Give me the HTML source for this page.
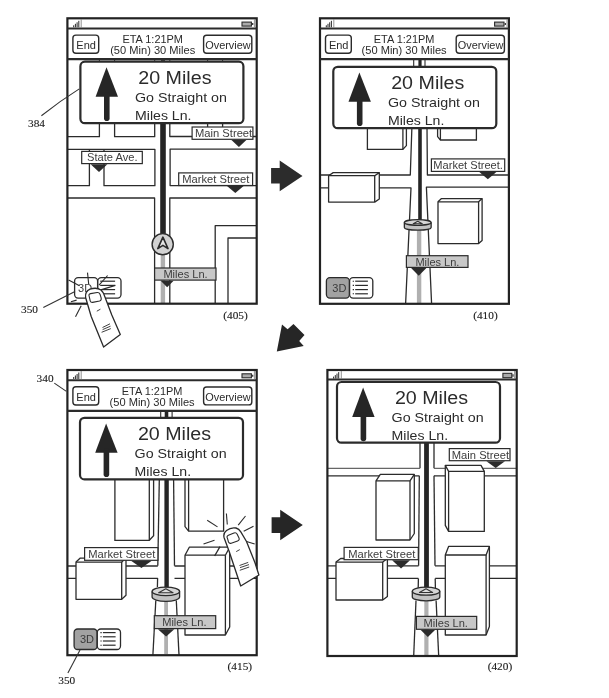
<!DOCTYPE html>
<html><head><meta charset="utf-8"><style>
html,body{margin:0;padding:0;background:#fff;}
svg{display:block;will-change:transform;}
</style></head><body>
<svg width="609" height="698" viewBox="0 0 609 698">
<rect x="0" y="0" width="609" height="698" fill="#fff"/>
<polyline points="67.4,136.7 99.4,136.7 99.4,122" fill="none" stroke="#2b2b2b" stroke-width="1.3" stroke-linejoin="round"/>
<polyline points="114.6,122 114.6,136.7 154.7,136.7 154.7,122" fill="none" stroke="#2b2b2b" stroke-width="1.3" stroke-linejoin="round"/>
<polyline points="67.4,149.3 154.9,149.3 154.9,185.7 104,185.7 104,149.3" fill="none" stroke="#2b2b2b" stroke-width="1.3" stroke-linejoin="round"/>
<polyline points="67.4,185.7 89.4,185.7 89.4,149.3" fill="none" stroke="#2b2b2b" stroke-width="1.3" stroke-linejoin="round"/>
<polyline points="67.4,198.0 154.6,198.0 154.6,303.7" fill="none" stroke="#2b2b2b" stroke-width="1.3" stroke-linejoin="round"/>
<polyline points="169.8,122 169.8,136.5 256.7,136.5" fill="none" stroke="#2b2b2b" stroke-width="1.3" stroke-linejoin="round"/>
<line x1="207.6" y1="122" x2="207.6" y2="137" stroke="#2b2b2b" stroke-width="1.3"/>
<line x1="222.6" y1="122" x2="222.6" y2="137" stroke="#2b2b2b" stroke-width="1.3"/>
<polyline points="256.7,149.1 170.1,149.1 170.1,185.6 256.7,185.6" fill="none" stroke="#2b2b2b" stroke-width="1.3" stroke-linejoin="round"/>
<polyline points="256.7,198.0 169.8,198.0 169.8,303.7" fill="none" stroke="#2b2b2b" stroke-width="1.3" stroke-linejoin="round"/>
<polyline points="256.7,225.7 215.2,225.7 215.2,303.7" fill="none" stroke="#2b2b2b" stroke-width="1.3" stroke-linejoin="round"/>
<polyline points="256.7,238.0 228.0,238.0 228.0,303.7" fill="none" stroke="#2b2b2b" stroke-width="1.3" stroke-linejoin="round"/>
<line x1="163.0" y1="122" x2="163.0" y2="236" stroke="#252525" stroke-width="5.6"/>
<line x1="162.9" y1="254" x2="162.9" y2="303" stroke="#b0b0b0" stroke-width="4.4"/>
<circle cx="162.7" cy="244.2" r="10.6" fill="#d2d2d2" stroke="#2b2b2b" stroke-width="1.4"/>
<polygon points="162.9,237.2 168,248.6 162.9,245.4 157.8,248.6" fill="#e6e6e6" stroke="#2b2b2b" stroke-width="1.6" stroke-linejoin="round"/>
<rect x="81.7" y="151.4" width="60.60" height="12.20" rx="0" fill="#fff" stroke="#2b2b2b" stroke-width="1.2"/>
<text x="87.0" y="161.4" font-family="Liberation Sans" font-size="11" fill="#3c3c3c" textLength="50.6" lengthAdjust="spacingAndGlyphs">State Ave.</text>
<polygon points="90.6,164.2 107.4,164.2 99.0,171.9" fill="#2b2b2b"/>
<rect x="192.1" y="127.0" width="60.80" height="12.30" rx="0" fill="#fff" stroke="#2b2b2b" stroke-width="1.2"/>
<text x="195.0" y="136.9" font-family="Liberation Sans" font-size="11" fill="#3c3c3c" textLength="57.2" lengthAdjust="spacingAndGlyphs">Main Street</text>
<polygon points="231.4,139.9 246.4,139.9 238.9,147.0" fill="#2b2b2b"/>
<rect x="178.7" y="172.9" width="73.90" height="12.60" rx="0" fill="#fff" stroke="#2b2b2b" stroke-width="1.2"/>
<text x="182.3" y="183.0" font-family="Liberation Sans" font-size="11" fill="#3c3c3c" textLength="67.0" lengthAdjust="spacingAndGlyphs">Market Street</text>
<polygon points="227.0,186.1 243.6,186.1 235.3,192.9" fill="#2b2b2b"/>
<rect x="154.6" y="268.0" width="61.40" height="12.10" rx="0" fill="#c8c8c8" stroke="#2b2b2b" stroke-width="1.2"/>
<text x="163.4" y="277.9" font-family="Liberation Sans" font-size="11" fill="#3c3c3c" textLength="44.3" lengthAdjust="spacingAndGlyphs">Miles Ln.</text>
<polygon points="160.7,280.70000000000005 173.6,280.70000000000005 167.14999999999998,287.3" fill="#2b2b2b"/>
<rect x="74.6" y="277.6" width="23.00" height="20.50" rx="3.5" fill="#fff" stroke="#2b2b2b" stroke-width="1.3"/>
<text x="78.1" y="292.40000000000003" font-family="Liberation Sans" font-size="11" fill="#3a3a3a">3D</text>
<rect x="97.8" y="277.6" width="23.20" height="20.50" rx="3.5" fill="#fff" stroke="#2b2b2b" stroke-width="1.3"/>
<line x1="100.19999999999999" y1="281.20000000000005" x2="115.1" y2="281.20000000000005" stroke="#2b2b2b" stroke-width="1.2"/>
<line x1="100.19999999999999" y1="285.40000000000003" x2="115.1" y2="285.40000000000003" stroke="#2b2b2b" stroke-width="1.2"/>
<line x1="100.19999999999999" y1="289.6" x2="115.1" y2="289.6" stroke="#2b2b2b" stroke-width="1.2"/>
<line x1="100.19999999999999" y1="293.80000000000007" x2="115.1" y2="293.80000000000007" stroke="#2b2b2b" stroke-width="1.2"/>
<line x1="101.6" y1="289.6" x2="115.39999999999999" y2="285.40000000000003" stroke="#2b2b2b" stroke-width="1.1"/>
<rect x="67.4" y="18.3" width="189.30" height="285.40" fill="none" stroke="#222" stroke-width="2.2"/>
<line x1="67.4" y1="28.6" x2="256.70000000000005" y2="28.6" stroke="#2b2b2b" stroke-width="2"/>
<line x1="73.7" y1="27.3" x2="73.7" y2="25.3" stroke="#2b2b2b" stroke-width="1.0"/>
<line x1="75.4" y1="27.3" x2="75.4" y2="23.8" stroke="#2b2b2b" stroke-width="1.0"/>
<line x1="77.10000000000001" y1="27.3" x2="77.10000000000001" y2="22.3" stroke="#2b2b2b" stroke-width="1.0"/>
<line x1="78.8" y1="27.3" x2="78.8" y2="20.8" stroke="#2b2b2b" stroke-width="1.0"/>
<line x1="81.2" y1="19.3" x2="81.2" y2="27.6" stroke="#777" stroke-width="0.8"/>
<rect x="242.0" y="22.1" width="9.40" height="4.00" rx="0" fill="#aaa" stroke="#2b2b2b" stroke-width="1.1"/>
<line x1="252.70000000000002" y1="23.1" x2="252.70000000000002" y2="25.1" stroke="#2b2b2b" stroke-width="1.2"/>
<line x1="254.4" y1="19.3" x2="254.4" y2="27.6" stroke="#777" stroke-width="0.8"/>
<line x1="67.4" y1="59.099999999999994" x2="256.70000000000005" y2="59.099999999999994" stroke="#2b2b2b" stroke-width="2.2"/>
<rect x="72.9" y="35.1" width="25.80" height="18.20" rx="3" fill="#fff" stroke="#2b2b2b" stroke-width="1.4"/>
<text x="76.30000000000001" y="49.3" font-family="Liberation Sans" font-size="11" fill="#2b2b2b">End</text>
<rect x="203.6" y="35.3" width="48.20" height="17.90" rx="3" fill="#fff" stroke="#2b2b2b" stroke-width="1.4"/>
<text x="205.20000000000002" y="48.8" font-family="Liberation Sans" font-size="11" fill="#2b2b2b" textLength="45.5" lengthAdjust="spacingAndGlyphs">Overview</text>
<text x="152.7" y="43.0" font-family="Liberation Sans" font-size="10.95" fill="#2b2b2b" text-anchor="middle">ETA 1:21PM</text>
<text x="152.7" y="54.3" font-family="Liberation Sans" font-size="11.1" fill="#2b2b2b" text-anchor="middle">(50 Min) 30 Miles</text>
<rect x="80.4" y="61.7" width="163.00" height="61.50" rx="4.5" fill="#fff" stroke="#2b2b2b" stroke-width="2.2"/>
<polygon points="106.5,67.3 118.0,96.7 95.60000000000001,96.7" fill="#262626"/>
<line x1="106.80000000000001" y1="94.7" x2="106.80000000000001" y2="118.2" stroke="#262626" stroke-width="5.6" stroke-linecap="round"/>
<text x="138.3" y="83.7" font-family="Liberation Sans" font-size="18" fill="#2b2b2b" textLength="73.2" lengthAdjust="spacingAndGlyphs">20 Miles</text>
<text x="135.0" y="102.1" font-family="Liberation Sans" font-size="12.2" fill="#2b2b2b" textLength="92" lengthAdjust="spacingAndGlyphs">Go Straight on</text>
<text x="135.0" y="119.6" font-family="Liberation Sans" font-size="12.2" fill="#2b2b2b" textLength="56.5" lengthAdjust="spacingAndGlyphs">Miles Ln.</text>
<line x1="99.4" y1="59.6" x2="99.4" y2="61.0" stroke="#2b2b2b" stroke-width="1.0"/>
<line x1="114.6" y1="59.6" x2="114.6" y2="61.0" stroke="#2b2b2b" stroke-width="1.0"/>
<line x1="154.7" y1="59.6" x2="154.7" y2="61.0" stroke="#2b2b2b" stroke-width="1.0"/>
<line x1="169.8" y1="59.6" x2="169.8" y2="61.0" stroke="#2b2b2b" stroke-width="1.0"/>
<line x1="207.6" y1="59.6" x2="207.6" y2="61.0" stroke="#2b2b2b" stroke-width="1.0"/>
<line x1="222.6" y1="59.6" x2="222.6" y2="61.0" stroke="#2b2b2b" stroke-width="1.0"/>
<line x1="163.0" y1="59.6" x2="163.0" y2="61.0" stroke="#333" stroke-width="4"/>
<line x1="87.5" y1="272.6" x2="88.7" y2="284.1" stroke="#2b2b2b" stroke-width="1.1"/>
<line x1="107.6" y1="275.5" x2="99" y2="285.2" stroke="#2b2b2b" stroke-width="1.1"/>
<line x1="68.6" y1="280" x2="79.5" y2="285.8" stroke="#2b2b2b" stroke-width="1.1"/>
<line x1="81.2" y1="305.8" x2="75.5" y2="316.7" stroke="#2b2b2b" stroke-width="1.1"/>
<line x1="70.9" y1="301.8" x2="76.6" y2="300.1" stroke="#2b2b2b" stroke-width="1.1"/>
<path d="M103.6,347.1 L91.2,316.5 L85.6,297.5 Q84.8,291.5 90,289.2 Q96.5,287 101,290 Q103,292 104,294.5 L111.8,315 L120.3,334.6 Z" fill="#fff" stroke="#2a2a2a" stroke-width="1.3" stroke-linejoin="round"/>
<path d="M89.2,296.4 Q88.3,294.2 90.6,293.6 L97.2,292.5 Q99.2,292.3 100,294.2 L101.2,298.2 Q101.6,300.4 99.6,301 L92.6,302.4 Q90.8,302.6 90.2,300.8 Z" fill="#fff" stroke="#2a2a2a" stroke-width="1.1" stroke-linejoin="round"/>
<line x1="96.8" y1="311.2" x2="100.4" y2="309.2" stroke="#2b2b2b" stroke-width="0.9"/>
<line x1="102.5" y1="327.5" x2="110" y2="323.8" stroke="#2b2b2b" stroke-width="0.9"/>
<line x1="102.6" y1="329.6" x2="110.5" y2="326.2" stroke="#2b2b2b" stroke-width="0.9"/>
<line x1="101.6" y1="332.3" x2="110.8" y2="328.6" stroke="#2b2b2b" stroke-width="0.9"/>
<line x1="413.7" y1="59.5" x2="413.7" y2="66.8" stroke="#2b2b2b" stroke-width="1.1"/>
<line x1="425.0" y1="59.5" x2="425.0" y2="66.8" stroke="#2b2b2b" stroke-width="1.1"/>
<line x1="420.0" y1="59.5" x2="420.0" y2="66.8" stroke="#252525" stroke-width="3.2"/>
<polygon points="367.4,127 367.4,149.3 402.9,149.3 406.4,145.6 406.4,127" fill="#fff" stroke="#2b2b2b" stroke-width="1.3"/>
<line x1="402.9" y1="127" x2="402.9" y2="149.3" stroke="#2b2b2b" stroke-width="1.3"/>
<polygon points="437.6,127 437.6,136.6 440.4,140 476.4,140 476.4,127" fill="#fff" stroke="#2b2b2b" stroke-width="1.3"/>
<line x1="440.4" y1="127" x2="440.4" y2="140" stroke="#2b2b2b" stroke-width="1.3"/>
<polyline points="320,175.0 410.3,175.0 411.9,127" fill="none" stroke="#2b2b2b" stroke-width="1.3" stroke-linejoin="round"/>
<polyline points="320,187.9 411.0,187.9 405.6,304" fill="none" stroke="#2b2b2b" stroke-width="1.3" stroke-linejoin="round"/>
<polyline points="427.0,127 427.4,175.0 508.7,175.0" fill="none" stroke="#2b2b2b" stroke-width="1.3" stroke-linejoin="round"/>
<polyline points="508.7,187.2 426.4,187.2 431.6,304" fill="none" stroke="#2b2b2b" stroke-width="1.3" stroke-linejoin="round"/>
<polygon points="328.6,175.7 333.20000000000005,172.6 379.3,172.6 379.3,199.0 374.7,202.1 328.6,202.1" fill="#fff" stroke="#2b2b2b" stroke-width="1.3" stroke-linejoin="round"/>
<polyline points="328.6,175.7 374.7,175.7 379.3,172.6" fill="none" stroke="#2b2b2b" stroke-width="1.3" stroke-linejoin="round"/>
<line x1="374.7" y1="175.7" x2="374.7" y2="202.1" stroke="#2b2b2b" stroke-width="1.3"/>
<polygon points="438.0,201.8 441.5,198.60000000000002 482.1,198.60000000000002 482.1,240.4 478.6,243.6 438.0,243.6" fill="#fff" stroke="#2b2b2b" stroke-width="1.3" stroke-linejoin="round"/>
<polyline points="438.0,201.8 478.6,201.8 482.1,198.60000000000002" fill="none" stroke="#2b2b2b" stroke-width="1.3" stroke-linejoin="round"/>
<line x1="478.6" y1="201.8" x2="478.6" y2="243.6" stroke="#2b2b2b" stroke-width="1.3"/>
<line x1="420.0" y1="127" x2="420.0" y2="221" stroke="#252525" stroke-width="3.6"/>
<line x1="419.1" y1="229" x2="419.1" y2="303" stroke="#b0b0b0" stroke-width="4.4"/>
<path d="M404.35,222.5 L404.35,227.4 A13.4,2.8 0 0 0 431.15,227.4 L431.15,222.5" fill="#c2c2c2" stroke="#2b2b2b" stroke-width="1.3"/>
<ellipse cx="417.75" cy="222.5" rx="13.4" ry="2.8" fill="#d6d6d6" stroke="#2b2b2b" stroke-width="1.3"/>
<polygon points="417.75,221.29999999999998 422.25,223.8 413.25,223.8" fill="#dedede" stroke="#333" stroke-width="1.1" stroke-linejoin="round"/>
<rect x="431.4" y="158.9" width="73.30" height="12.50" rx="0" fill="#fff" stroke="#2b2b2b" stroke-width="1.2"/>
<text x="433.3" y="169.1" font-family="Liberation Sans" font-size="11" fill="#3c3c3c" textLength="69.6" lengthAdjust="spacingAndGlyphs">Market Street.</text>
<polygon points="479.3,172.0 496.4,172.0 487.85,179.3" fill="#2b2b2b"/>
<rect x="406.4" y="255.7" width="61.60" height="11.70" rx="0" fill="#c8c8c8" stroke="#2b2b2b" stroke-width="1.2"/>
<text x="415.4" y="265.5" font-family="Liberation Sans" font-size="11" fill="#3c3c3c">Miles Ln.</text>
<polygon points="411.1,268.0 426.4,268.0 418.75,275.7" fill="#2b2b2b"/>
<rect x="326.4" y="277.6" width="23.00" height="20.50" rx="3.5" fill="#a2a2a2" stroke="#2b2b2b" stroke-width="1.3"/>
<text x="332.29999999999995" y="291.90000000000003" font-family="Liberation Sans" font-size="11" fill="#3a3a3a">3D</text>
<rect x="349.59999999999997" y="277.6" width="23.20" height="20.50" rx="3.5" fill="#fff" stroke="#2b2b2b" stroke-width="1.3"/>
<line x1="352.7" y1="281.20000000000005" x2="354.0" y2="281.20000000000005" stroke="#2b2b2b" stroke-width="1.1"/>
<line x1="355.2" y1="281.20000000000005" x2="367.9" y2="281.20000000000005" stroke="#2b2b2b" stroke-width="1.2"/>
<line x1="352.7" y1="285.40000000000003" x2="354.0" y2="285.40000000000003" stroke="#2b2b2b" stroke-width="1.1"/>
<line x1="355.2" y1="285.40000000000003" x2="367.9" y2="285.40000000000003" stroke="#2b2b2b" stroke-width="1.2"/>
<line x1="352.7" y1="289.6" x2="354.0" y2="289.6" stroke="#2b2b2b" stroke-width="1.1"/>
<line x1="355.2" y1="289.6" x2="367.9" y2="289.6" stroke="#2b2b2b" stroke-width="1.2"/>
<line x1="352.7" y1="293.80000000000007" x2="354.0" y2="293.80000000000007" stroke="#2b2b2b" stroke-width="1.1"/>
<line x1="355.2" y1="293.80000000000007" x2="367.9" y2="293.80000000000007" stroke="#2b2b2b" stroke-width="1.2"/>
<rect x="320.0" y="18.3" width="188.90" height="285.50" fill="none" stroke="#222" stroke-width="2.2"/>
<line x1="320.0" y1="28.6" x2="509.3" y2="28.6" stroke="#2b2b2b" stroke-width="2"/>
<line x1="326.3" y1="27.3" x2="326.3" y2="25.3" stroke="#2b2b2b" stroke-width="1.0"/>
<line x1="328.0" y1="27.3" x2="328.0" y2="23.8" stroke="#2b2b2b" stroke-width="1.0"/>
<line x1="329.7" y1="27.3" x2="329.7" y2="22.3" stroke="#2b2b2b" stroke-width="1.0"/>
<line x1="331.40000000000003" y1="27.3" x2="331.40000000000003" y2="20.8" stroke="#2b2b2b" stroke-width="1.0"/>
<line x1="333.8" y1="19.3" x2="333.8" y2="27.6" stroke="#777" stroke-width="0.8"/>
<rect x="494.6" y="22.1" width="9.40" height="4.00" rx="0" fill="#aaa" stroke="#2b2b2b" stroke-width="1.1"/>
<line x1="505.3" y1="23.1" x2="505.3" y2="25.1" stroke="#2b2b2b" stroke-width="1.2"/>
<line x1="507.0" y1="19.3" x2="507.0" y2="27.6" stroke="#777" stroke-width="0.8"/>
<line x1="320.0" y1="59.099999999999994" x2="509.3" y2="59.099999999999994" stroke="#2b2b2b" stroke-width="2.2"/>
<rect x="325.5" y="35.1" width="25.80" height="18.20" rx="3" fill="#fff" stroke="#2b2b2b" stroke-width="1.4"/>
<text x="328.9" y="49.3" font-family="Liberation Sans" font-size="11" fill="#2b2b2b">End</text>
<rect x="456.2" y="35.3" width="48.20" height="17.90" rx="3" fill="#fff" stroke="#2b2b2b" stroke-width="1.4"/>
<text x="457.8" y="48.8" font-family="Liberation Sans" font-size="11" fill="#2b2b2b" textLength="45.5" lengthAdjust="spacingAndGlyphs">Overview</text>
<text x="404.1" y="43.0" font-family="Liberation Sans" font-size="10.95" fill="#2b2b2b" text-anchor="middle">ETA 1:21PM</text>
<text x="404.1" y="54.3" font-family="Liberation Sans" font-size="11.1" fill="#2b2b2b" text-anchor="middle">(50 Min) 30 Miles</text>
<rect x="333.3" y="66.8" width="163.00" height="61.40" rx="4.5" fill="#fff" stroke="#2b2b2b" stroke-width="2.2"/>
<polygon points="359.40000000000003,72.39999999999999 370.90000000000003,101.8 348.5,101.8" fill="#262626"/>
<line x1="359.7" y1="99.8" x2="359.7" y2="123.3" stroke="#262626" stroke-width="5.6" stroke-linecap="round"/>
<text x="391.2" y="88.8" font-family="Liberation Sans" font-size="18" fill="#2b2b2b" textLength="73.2" lengthAdjust="spacingAndGlyphs">20 Miles</text>
<text x="387.90000000000003" y="107.19999999999999" font-family="Liberation Sans" font-size="12.2" fill="#2b2b2b" textLength="92" lengthAdjust="spacingAndGlyphs">Go Straight on</text>
<text x="387.90000000000003" y="124.69999999999999" font-family="Liberation Sans" font-size="12.2" fill="#2b2b2b" textLength="56.5" lengthAdjust="spacingAndGlyphs">Miles Ln.</text>
<line x1="160.7" y1="410.8" x2="160.7" y2="417.5" stroke="#2b2b2b" stroke-width="1.1"/>
<line x1="172.1" y1="410.8" x2="172.1" y2="417.5" stroke="#2b2b2b" stroke-width="1.1"/>
<line x1="166.5" y1="410.8" x2="166.5" y2="417.5" stroke="#252525" stroke-width="3.6"/>
<polygon points="114.9,478 114.9,540.3 149.3,540.3 153.6,535.8 153.6,478" fill="#fff" stroke="#2b2b2b" stroke-width="1.3"/>
<line x1="149.3" y1="478" x2="149.3" y2="540.3" stroke="#2b2b2b" stroke-width="1.3"/>
<polygon points="223.6,478 223.6,531.1 188.6,531.1 185.0,526.6 185.0,478" fill="#fff" stroke="#2b2b2b" stroke-width="1.3"/>
<line x1="188.6" y1="478" x2="188.6" y2="531.1" stroke="#2b2b2b" stroke-width="1.3"/>
<line x1="159.3" y1="479.5" x2="157.8" y2="565.7" stroke="#2b2b2b" stroke-width="1.3"/>
<line x1="173.6" y1="479.5" x2="174.5" y2="565.7" stroke="#2b2b2b" stroke-width="1.3"/>
<polyline points="67.4,566.0 157.8,566.0" fill="none" stroke="#2b2b2b" stroke-width="1.3" stroke-linejoin="round"/>
<polyline points="67.4,578.3 157.6,578.3 157.4,587" fill="none" stroke="#2b2b2b" stroke-width="1.3" stroke-linejoin="round"/>
<polyline points="174.5,566.0 256.7,566.0" fill="none" stroke="#2b2b2b" stroke-width="1.3" stroke-linejoin="round"/>
<polyline points="174.5,578.3 256.7,578.3" fill="none" stroke="#2b2b2b" stroke-width="1.3" stroke-linejoin="round"/>
<polyline points="155.8,600.5 152.9,655" fill="none" stroke="#2b2b2b" stroke-width="1.3" stroke-linejoin="round"/>
<polyline points="176.3,600.5 179.0,655" fill="none" stroke="#2b2b2b" stroke-width="1.3" stroke-linejoin="round"/>
<polygon points="76.0,562.1 80.3,558.1 126.0,558.1 126.0,595.3 121.7,599.3 76.0,599.3" fill="#fff" stroke="#2b2b2b" stroke-width="1.3" stroke-linejoin="round"/>
<polyline points="76.0,562.1 121.7,562.1 126.0,558.1" fill="none" stroke="#2b2b2b" stroke-width="1.3" stroke-linejoin="round"/>
<line x1="121.7" y1="562.1" x2="121.7" y2="599.3" stroke="#2b2b2b" stroke-width="1.3"/>
<polygon points="185.0,555.2 189.3,547.2 229.70000000000002,547.2 229.70000000000002,627.0 225.4,635.0 185.0,635.0" fill="#fff" stroke="#2b2b2b" stroke-width="1.3" stroke-linejoin="round"/>
<polyline points="185.0,555.2 225.4,555.2 229.70000000000002,547.2" fill="none" stroke="#2b2b2b" stroke-width="1.3" stroke-linejoin="round"/>
<line x1="225.4" y1="555.2" x2="225.4" y2="635.0" stroke="#2b2b2b" stroke-width="1.3"/>
<line x1="220.0" y1="546.6" x2="214.6" y2="556.0" stroke="#2b2b2b" stroke-width="1.3"/>
<line x1="166.6" y1="479.5" x2="166.6" y2="588" stroke="#252525" stroke-width="4.4"/>
<line x1="166.1" y1="598" x2="166.1" y2="654" stroke="#b0b0b0" stroke-width="3.8"/>
<path d="M152.1,591.4000000000001 L152.1,597.1000000000001 A13.75,4.2 0 0 0 179.6,597.1000000000001 L179.6,591.4000000000001" fill="#c2c2c2" stroke="#2b2b2b" stroke-width="1.3"/>
<ellipse cx="165.85" cy="591.4000000000001" rx="13.75" ry="4.2" fill="#d6d6d6" stroke="#2b2b2b" stroke-width="1.3"/>
<polygon points="165.85,588.8000000000001 173.04999999999998,592.7 158.65,592.7" fill="#dedede" stroke="#333" stroke-width="1.1" stroke-linejoin="round"/>
<rect x="84.6" y="547.6" width="73.30" height="12.70" rx="0" fill="#fff" stroke="#2b2b2b" stroke-width="1.2"/>
<text x="88.3" y="558.0" font-family="Liberation Sans" font-size="11" fill="#3c3c3c" textLength="67.0" lengthAdjust="spacingAndGlyphs">Market Street</text>
<polygon points="131.4,560.9 151.4,560.9 141.4,568.1" fill="#2b2b2b"/>
<rect x="154.3" y="615.7" width="61.40" height="12.90" rx="0" fill="#c8c8c8" stroke="#2b2b2b" stroke-width="1.2"/>
<text x="162.2" y="626.3" font-family="Liberation Sans" font-size="11" fill="#3c3c3c" textLength="44.3" lengthAdjust="spacingAndGlyphs">Miles Ln.</text>
<polygon points="157.9,629.2 174.3,629.2 166.10000000000002,636.4" fill="#2b2b2b"/>
<rect x="74.1" y="629.0" width="23.00" height="20.50" rx="3.5" fill="#a2a2a2" stroke="#2b2b2b" stroke-width="1.3"/>
<text x="80.0" y="643.3" font-family="Liberation Sans" font-size="11" fill="#3a3a3a">3D</text>
<rect x="97.3" y="629.0" width="23.20" height="20.50" rx="3.5" fill="#fff" stroke="#2b2b2b" stroke-width="1.3"/>
<line x1="100.39999999999999" y1="632.6" x2="101.69999999999999" y2="632.6" stroke="#2b2b2b" stroke-width="1.1"/>
<line x1="102.89999999999999" y1="632.6" x2="115.6" y2="632.6" stroke="#2b2b2b" stroke-width="1.2"/>
<line x1="100.39999999999999" y1="636.8000000000001" x2="101.69999999999999" y2="636.8000000000001" stroke="#2b2b2b" stroke-width="1.1"/>
<line x1="102.89999999999999" y1="636.8000000000001" x2="115.6" y2="636.8000000000001" stroke="#2b2b2b" stroke-width="1.2"/>
<line x1="100.39999999999999" y1="641.0" x2="101.69999999999999" y2="641.0" stroke="#2b2b2b" stroke-width="1.1"/>
<line x1="102.89999999999999" y1="641.0" x2="115.6" y2="641.0" stroke="#2b2b2b" stroke-width="1.2"/>
<line x1="100.39999999999999" y1="645.2" x2="101.69999999999999" y2="645.2" stroke="#2b2b2b" stroke-width="1.1"/>
<line x1="102.89999999999999" y1="645.2" x2="115.6" y2="645.2" stroke="#2b2b2b" stroke-width="1.2"/>
<rect x="67.4" y="370.0" width="189.30" height="285.20" fill="none" stroke="#222" stroke-width="2.2"/>
<line x1="67.4" y1="380.3" x2="256.70000000000005" y2="380.3" stroke="#2b2b2b" stroke-width="2"/>
<line x1="73.7" y1="379.0" x2="73.7" y2="377.0" stroke="#2b2b2b" stroke-width="1.0"/>
<line x1="75.4" y1="379.0" x2="75.4" y2="375.5" stroke="#2b2b2b" stroke-width="1.0"/>
<line x1="77.10000000000001" y1="379.0" x2="77.10000000000001" y2="374.0" stroke="#2b2b2b" stroke-width="1.0"/>
<line x1="78.8" y1="379.0" x2="78.8" y2="372.5" stroke="#2b2b2b" stroke-width="1.0"/>
<line x1="81.2" y1="371.0" x2="81.2" y2="379.3" stroke="#777" stroke-width="0.8"/>
<rect x="242.0" y="373.8" width="9.40" height="4.00" rx="0" fill="#aaa" stroke="#2b2b2b" stroke-width="1.1"/>
<line x1="252.70000000000002" y1="374.8" x2="252.70000000000002" y2="376.8" stroke="#2b2b2b" stroke-width="1.2"/>
<line x1="254.4" y1="371.0" x2="254.4" y2="379.3" stroke="#777" stroke-width="0.8"/>
<line x1="67.4" y1="410.8" x2="256.70000000000005" y2="410.8" stroke="#2b2b2b" stroke-width="2.2"/>
<rect x="72.9" y="386.8" width="25.80" height="18.20" rx="3" fill="#fff" stroke="#2b2b2b" stroke-width="1.4"/>
<text x="76.30000000000001" y="401.0" font-family="Liberation Sans" font-size="11" fill="#2b2b2b">End</text>
<rect x="203.6" y="387.0" width="48.20" height="17.90" rx="3" fill="#fff" stroke="#2b2b2b" stroke-width="1.4"/>
<text x="205.20000000000002" y="400.5" font-family="Liberation Sans" font-size="11" fill="#2b2b2b" textLength="45.5" lengthAdjust="spacingAndGlyphs">Overview</text>
<text x="152.1" y="394.7" font-family="Liberation Sans" font-size="10.95" fill="#2b2b2b" text-anchor="middle">ETA 1:21PM</text>
<text x="152.1" y="406.0" font-family="Liberation Sans" font-size="11.1" fill="#2b2b2b" text-anchor="middle">(50 Min) 30 Miles</text>
<rect x="80.0" y="417.8" width="163.00" height="61.60" rx="4.5" fill="#fff" stroke="#2b2b2b" stroke-width="2.2"/>
<polygon points="106.1,423.40000000000003 117.6,452.8 95.2,452.8" fill="#262626"/>
<line x1="106.4" y1="450.8" x2="106.4" y2="474.3" stroke="#262626" stroke-width="5.6" stroke-linecap="round"/>
<text x="137.9" y="440.1" font-family="Liberation Sans" font-size="18" fill="#2b2b2b" textLength="73.2" lengthAdjust="spacingAndGlyphs">20 Miles</text>
<text x="134.6" y="458.2" font-family="Liberation Sans" font-size="12.2" fill="#2b2b2b" textLength="92" lengthAdjust="spacingAndGlyphs">Go Straight on</text>
<text x="134.6" y="476.0" font-family="Liberation Sans" font-size="12.2" fill="#2b2b2b" textLength="56.5" lengthAdjust="spacingAndGlyphs">Miles Ln.</text>
<line x1="207.2" y1="520.2" x2="217.5" y2="526.9" stroke="#2b2b2b" stroke-width="1.1"/>
<line x1="226.4" y1="513.5" x2="227.3" y2="524.5" stroke="#2b2b2b" stroke-width="1.1"/>
<line x1="245.5" y1="516" x2="238.2" y2="525.1" stroke="#2b2b2b" stroke-width="1.1"/>
<line x1="253.5" y1="526.3" x2="243.7" y2="531.2" stroke="#2b2b2b" stroke-width="1.1"/>
<line x1="214.5" y1="540.3" x2="203.5" y2="544" stroke="#2b2b2b" stroke-width="1.1"/>
<line x1="254.7" y1="544" x2="244.9" y2="540.9" stroke="#2b2b2b" stroke-width="1.1"/>
<path d="M240.7,586 L229.1,551.3 L224.2,538 Q222.8,533.5 226.5,530.5 Q231,527 236,528 Q239,528.8 240.8,531.8 L246.5,541.5 L254.9,562.5 L258.9,575 Z" fill="#fff" stroke="#2a2a2a" stroke-width="1.3" stroke-linejoin="round"/>
<path d="M227.4,538.2 Q226.3,536.2 228.4,535.3 L234,533 Q236.2,532.3 237.2,534.2 L239,538 Q239.8,540.2 237.6,541 L231.2,543.2 Q229.3,543.8 228.5,542 Z" fill="#fff" stroke="#2a2a2a" stroke-width="1.1" stroke-linejoin="round"/>
<line x1="236.2" y1="551.6" x2="239.8" y2="549.6" stroke="#2b2b2b" stroke-width="0.9"/>
<line x1="239.5" y1="565.5" x2="248.2" y2="562.4" stroke="#2b2b2b" stroke-width="0.9"/>
<line x1="240.0" y1="567.6" x2="249.0" y2="564.6" stroke="#2b2b2b" stroke-width="0.9"/>
<line x1="239.8" y1="570.3" x2="249.2" y2="567.0" stroke="#2b2b2b" stroke-width="0.9"/>
<line x1="420.0" y1="442.7" x2="420.0" y2="468.2" stroke="#2b2b2b" stroke-width="1.3"/>
<line x1="434.0" y1="442.7" x2="434.0" y2="468.2" stroke="#2b2b2b" stroke-width="1.3"/>
<line x1="327.4" y1="468.4" x2="420.0" y2="468.4" stroke="#666" stroke-width="1.1"/>
<line x1="434.0" y1="468.4" x2="516.7" y2="468.4" stroke="#666" stroke-width="1.1"/>
<line x1="327.4" y1="475.8" x2="419.3" y2="475.8" stroke="#2b2b2b" stroke-width="1.3"/>
<line x1="434.0" y1="475.8" x2="516.7" y2="475.8" stroke="#2b2b2b" stroke-width="1.3"/>
<line x1="419.3" y1="475.8" x2="418.6" y2="565.7" stroke="#2b2b2b" stroke-width="1.3"/>
<line x1="434.0" y1="475.8" x2="435.0" y2="565.7" stroke="#2b2b2b" stroke-width="1.3"/>
<line x1="327.4" y1="565.8" x2="418.6" y2="565.8" stroke="#2b2b2b" stroke-width="1.3"/>
<line x1="327.4" y1="578.4" x2="418.4" y2="578.4" stroke="#2b2b2b" stroke-width="1.3"/>
<line x1="418.4" y1="578.4" x2="418.2" y2="588" stroke="#2b2b2b" stroke-width="1.3"/>
<line x1="435.0" y1="565.8" x2="516.7" y2="565.8" stroke="#2b2b2b" stroke-width="1.3"/>
<line x1="435.2" y1="578.4" x2="516.7" y2="578.4" stroke="#2b2b2b" stroke-width="1.3"/>
<line x1="435.2" y1="578.4" x2="435.4" y2="588" stroke="#2b2b2b" stroke-width="1.3"/>
<line x1="416.0" y1="600.5" x2="413.7" y2="656" stroke="#2b2b2b" stroke-width="1.3"/>
<line x1="436.1" y1="600.5" x2="438.7" y2="656" stroke="#2b2b2b" stroke-width="1.3"/>
<polygon points="376.0,480.9 380.3,474.4 414.3,474.4 414.3,533.5 410.0,540.0 376.0,540.0" fill="#fff" stroke="#2b2b2b" stroke-width="1.3" stroke-linejoin="round"/>
<polyline points="376.0,480.9 410.0,480.9 414.3,474.4" fill="none" stroke="#2b2b2b" stroke-width="1.3" stroke-linejoin="round"/>
<line x1="410.0" y1="480.9" x2="410.0" y2="540.0" stroke="#2b2b2b" stroke-width="1.3"/>
<polygon points="484.3,471.4 481.0,465.4 445.3,465.4 445.3,525.4 448.6,531.4 484.3,531.4" fill="#fff" stroke="#2b2b2b" stroke-width="1.3" stroke-linejoin="round"/>
<polyline points="484.3,471.4 448.6,471.4 445.3,465.4" fill="none" stroke="#2b2b2b" stroke-width="1.3" stroke-linejoin="round"/>
<line x1="448.6" y1="471.4" x2="448.6" y2="531.4" stroke="#2b2b2b" stroke-width="1.3"/>
<polygon points="336.0,562.1 340.7,558.5 387.4,558.5 387.4,596.4 382.7,600.0 336.0,600.0" fill="#fff" stroke="#2b2b2b" stroke-width="1.3" stroke-linejoin="round"/>
<polyline points="336.0,562.1 382.7,562.1 387.4,558.5" fill="none" stroke="#2b2b2b" stroke-width="1.3" stroke-linejoin="round"/>
<line x1="382.7" y1="562.1" x2="382.7" y2="600.0" stroke="#2b2b2b" stroke-width="1.3"/>
<polygon points="445.3,555.0 448.6,546.4 489.40000000000003,546.4 489.40000000000003,626.4 486.1,635.0 445.3,635.0" fill="#fff" stroke="#2b2b2b" stroke-width="1.3" stroke-linejoin="round"/>
<polyline points="445.3,555.0 486.1,555.0 489.40000000000003,546.4" fill="none" stroke="#2b2b2b" stroke-width="1.3" stroke-linejoin="round"/>
<line x1="486.1" y1="555.0" x2="486.1" y2="635.0" stroke="#2b2b2b" stroke-width="1.3"/>
<line x1="426.5" y1="442.7" x2="426.5" y2="588" stroke="#252525" stroke-width="4.8"/>
<line x1="426.4" y1="600" x2="426.4" y2="655" stroke="#b0b0b0" stroke-width="4.2"/>
<path d="M412.3,591.2 L412.3,596.9000000000001 A13.75,4.0 0 0 0 439.8,596.9000000000001 L439.8,591.2" fill="#c2c2c2" stroke="#2b2b2b" stroke-width="1.3"/>
<ellipse cx="426.05" cy="591.2" rx="13.75" ry="4.0" fill="#d6d6d6" stroke="#2b2b2b" stroke-width="1.3"/>
<polygon points="426.05,588.8000000000001 432.65000000000003,592.5 419.45,592.5" fill="#dedede" stroke="#333" stroke-width="1.1" stroke-linejoin="round"/>
<rect x="449.3" y="448.6" width="60.70" height="12.10" rx="0" fill="#fff" stroke="#2b2b2b" stroke-width="1.2"/>
<text x="451.8" y="458.6" font-family="Liberation Sans" font-size="11" fill="#3c3c3c" textLength="57.2" lengthAdjust="spacingAndGlyphs">Main Street</text>
<polygon points="486.4,461.3 505.0,461.3 495.7,467.9" fill="#2b2b2b"/>
<rect x="344.1" y="547.4" width="74.20" height="12.30" rx="0" fill="#fff" stroke="#2b2b2b" stroke-width="1.2"/>
<text x="348.3" y="557.9" font-family="Liberation Sans" font-size="11" fill="#3c3c3c" textLength="67.0" lengthAdjust="spacingAndGlyphs">Market Street</text>
<polygon points="392.1,560.3000000000001 410.0,560.3000000000001 401.05,568.6" fill="#2b2b2b"/>
<rect x="416.4" y="616.4" width="60.30" height="12.90" rx="0" fill="#c8c8c8" stroke="#2b2b2b" stroke-width="1.2"/>
<text x="423.6" y="627.0" font-family="Liberation Sans" font-size="11" fill="#3c3c3c" textLength="44.3" lengthAdjust="spacingAndGlyphs">Miles Ln.</text>
<polygon points="420.7,629.9 435.0,629.9 427.85,637.1" fill="#2b2b2b"/>
<rect x="327.4" y="370.0" width="189.30" height="286.00" fill="none" stroke="#222" stroke-width="2.2"/>
<line x1="327.4" y1="379.6" x2="516.7" y2="379.6" stroke="#2b2b2b" stroke-width="2"/>
<line x1="333.6" y1="378.6" x2="333.6" y2="376.6" stroke="#2b2b2b" stroke-width="1.0"/>
<line x1="335.3" y1="378.6" x2="335.3" y2="375.1" stroke="#2b2b2b" stroke-width="1.0"/>
<line x1="337.0" y1="378.6" x2="337.0" y2="373.6" stroke="#2b2b2b" stroke-width="1.0"/>
<line x1="338.70000000000005" y1="378.6" x2="338.70000000000005" y2="372.1" stroke="#2b2b2b" stroke-width="1.0"/>
<line x1="341.3" y1="371" x2="341.3" y2="378.9" stroke="#777" stroke-width="0.8"/>
<rect x="502.9" y="373.3" width="8.90" height="4.40" rx="0" fill="#aaa" stroke="#2b2b2b" stroke-width="1.1"/>
<line x1="513.0" y1="374.3" x2="513.0" y2="376.7" stroke="#2b2b2b" stroke-width="1.2"/>
<line x1="514.6" y1="371" x2="514.6" y2="378.9" stroke="#777" stroke-width="0.8"/>
<rect x="337.0" y="382.0" width="163.00" height="60.70" rx="4.5" fill="#fff" stroke="#2b2b2b" stroke-width="2.2"/>
<polygon points="363.1,387.6 374.6,417.0 352.2,417.0" fill="#262626"/>
<line x1="363.4" y1="415.0" x2="363.4" y2="438.5" stroke="#262626" stroke-width="5.6" stroke-linecap="round"/>
<text x="394.9" y="403.7" font-family="Liberation Sans" font-size="18" fill="#2b2b2b" textLength="73.2" lengthAdjust="spacingAndGlyphs">20 Miles</text>
<text x="391.6" y="422.4" font-family="Liberation Sans" font-size="12.2" fill="#2b2b2b" textLength="92" lengthAdjust="spacingAndGlyphs">Go Straight on</text>
<text x="391.6" y="439.59999999999997" font-family="Liberation Sans" font-size="12.2" fill="#2b2b2b" textLength="56.5" lengthAdjust="spacingAndGlyphs">Miles Ln.</text>
<polygon points="271.1,168.1 279.7,168.1 279.7,160.4 302.5,176 279.7,191.3 279.7,183.5 271.1,183.5" fill="#2c2c2c"/>
<polygon points="271.6,517.3 280.2,517.3 280.2,509.7 302.8,525.1 280.2,540.2 280.2,533.1 271.6,533.1" fill="#262626"/>
<polygon points="276.8,351.4 282.0,324.5 287.6,329.3 293.5,324.0 304.5,334.9 299.2,341.1 303.7,346.0" fill="#262626"/>
<text x="28.0" y="126.9" font-family="Liberation Serif" font-size="11.3" fill="#1a1a1a" stroke="#1a1a1a" stroke-width="0.12">384</text>
<path d="M41.4,115.7 Q60,101 79.3,88.9" fill="none" stroke="#333" stroke-width="1.1"/>
<text x="21.0" y="312.9" font-family="Liberation Serif" font-size="11.3" fill="#1a1a1a" stroke="#1a1a1a" stroke-width="0.12">350</text>
<line x1="43.3" y1="307.4" x2="75" y2="291.4" stroke="#333" stroke-width="1.1"/>
<text x="223.3" y="319.0" font-family="Liberation Serif" font-size="11.3" fill="#1a1a1a" stroke="#1a1a1a" stroke-width="0.12">(405)</text>
<text x="473.2" y="319.3" font-family="Liberation Serif" font-size="11.3" fill="#1a1a1a" stroke="#1a1a1a" stroke-width="0.12">(410)</text>
<text x="36.6" y="381.8" font-family="Liberation Serif" font-size="11.3" fill="#1a1a1a" stroke="#1a1a1a" stroke-width="0.12">340</text>
<line x1="54.3" y1="383.1" x2="66.4" y2="391.4" stroke="#333" stroke-width="1.1"/>
<text x="58.3" y="683.6" font-family="Liberation Serif" font-size="11.3" fill="#1a1a1a" stroke="#1a1a1a" stroke-width="0.12">350</text>
<line x1="80" y1="650" x2="67.9" y2="672.9" stroke="#333" stroke-width="1.1"/>
<text x="227.6" y="670.3" font-family="Liberation Serif" font-size="11.3" fill="#1a1a1a" stroke="#1a1a1a" stroke-width="0.12">(415)</text>
<text x="487.7" y="670.3" font-family="Liberation Serif" font-size="11.3" fill="#1a1a1a" stroke="#1a1a1a" stroke-width="0.12">(420)</text>
</svg>
</body></html>
